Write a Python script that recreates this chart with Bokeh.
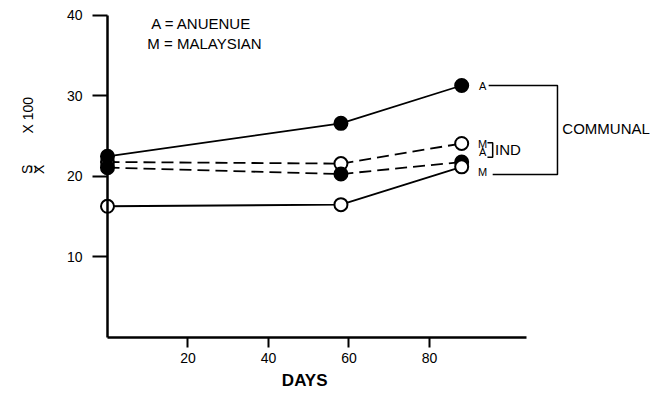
import math
from bokeh.plotting import figure
from bokeh.models import Range1d, FixedTicker, Label, LinearAxis
from bokeh.embed import file_html
from bokeh.resources import INLINE

# ---- data ----
days = [0, 58, 88]
a_communal = [22.5, 26.6, 31.3]
m_communal = [16.3, 16.5, 21.2]
m_individual = [21.8, 21.6, 24.1]
a_individual = [21.1, 20.3, 21.8]
x_ticks = [20, 40, 60, 80]
y_ticks = [10, 20, 30, 40]

FONT = "Liberation Sans"

p = figure(width=657, height=408, output_backend="svg", toolbar_location=None,
           x_range=Range1d(-26.58, 136.65), y_range=Range1d(-8.82, 41.86),
           x_axis_location=None, y_axis_location=None,
           min_border=0, min_border_left=0, min_border_right=0,
           min_border_top=0, min_border_bottom=0)
p.outline_line_color = None
p.grid.visible = False

xax = LinearAxis(fixed_location=0)
yax = LinearAxis(fixed_location=0)
p.add_layout(xax, "below")
p.add_layout(yax, "left")

xax.bounds = (0, 104)
yax.bounds = (0, 40)
xax.ticker = FixedTicker(ticks=x_ticks)
yax.ticker = FixedTicker(ticks=y_ticks)
for ax, tout, stand in ((xax, 10, 6), (yax, 15, 10)):
    ax.axis_line_width = 2.5
    ax.axis_line_color = "black"
    ax.major_tick_out = tout
    ax.major_tick_in = 0
    ax.major_tick_line_width = 2
    ax.major_tick_line_color = "black"
    ax.minor_tick_out = 0
    ax.minor_tick_in = 0
    ax.major_label_text_font = FONT
    ax.major_label_text_font_size = "14px"
    ax.major_label_text_color = "black"
    ax.major_label_standoff = stand

# ---- series ----
LW = 1.8
p.line(days, a_communal, line_width=LW, color="black")
p.line(days, m_communal, line_width=LW, color="black")
p.line(days, m_individual, line_width=LW, color="black", line_dash="12 6")
p.line(days, a_individual, line_width=LW, color="black", line_dash="12 6")

MS = 13
p.scatter(days, m_individual, size=MS, fill_color="white", line_color="black", line_width=2)
p.scatter(days, a_individual, size=MS, fill_color="black", line_color="black", line_width=2)
p.scatter(days, m_communal, size=MS, fill_color="white", line_color="black", line_width=2)
p.scatter(days, a_communal, size=MS, fill_color="black", line_color="black", line_width=2)

# ---- annotations ----
def lab(x, y, t, size="14px", align="left", angle=0, style="normal"):
    p.add_layout(Label(x=x, y=y, text=t, text_font=FONT, text_font_size=size,
                       text_align=align, text_baseline="middle", angle=angle,
                       text_color="black", text_font_style=style))

lab(10.9, 39.0, "A = ANUENUE", "15px")
lab(9.9, 36.5, "M = MALAYSIAN", "15px")

# end-of-series letters
lab(93.2, a_communal[-1], "A", "11px", "center")
lab(93.2, m_individual[-1] - 0.1, "M", "11px", "center")
lab(93.2, 23.0, "A", "11px", "center")
lab(93.2, 20.6, "M", "11px", "center")

# IND bracket
p.line([94.4, 95.7, 95.7, 94.4], [24.2, 24.2, 22.4, 22.4], color="black", line_width=1.5)
lab(96.3, 23.3, "IND", "15px")

# COMMUNAL bracket
p.line([94.7, 111.8, 111.8, 95.7], [a_communal[-1], a_communal[-1], 20.25, 20.25],
       color="black", line_width=1.5)
lab(113.0, 26.0, "COMMUNAL", "15px")

# axis title
lab(49, -5.3, "DAYS", "17px", "center", style="bold")

# y title: S/X x 100 (rotated)
lab(-19.75, 27.6, "X 100", "14px", "center", math.pi / 2)
lab(-20.0, 20.9, "S", "14px", "center", math.pi / 2)
lab(-18.3, 20.9, "=", "14px", "center", math.pi / 2)
lab(-17.0, 20.9, "X", "14px", "center", math.pi / 2)

open("out.html", "w").write(file_html(p, INLINE))
